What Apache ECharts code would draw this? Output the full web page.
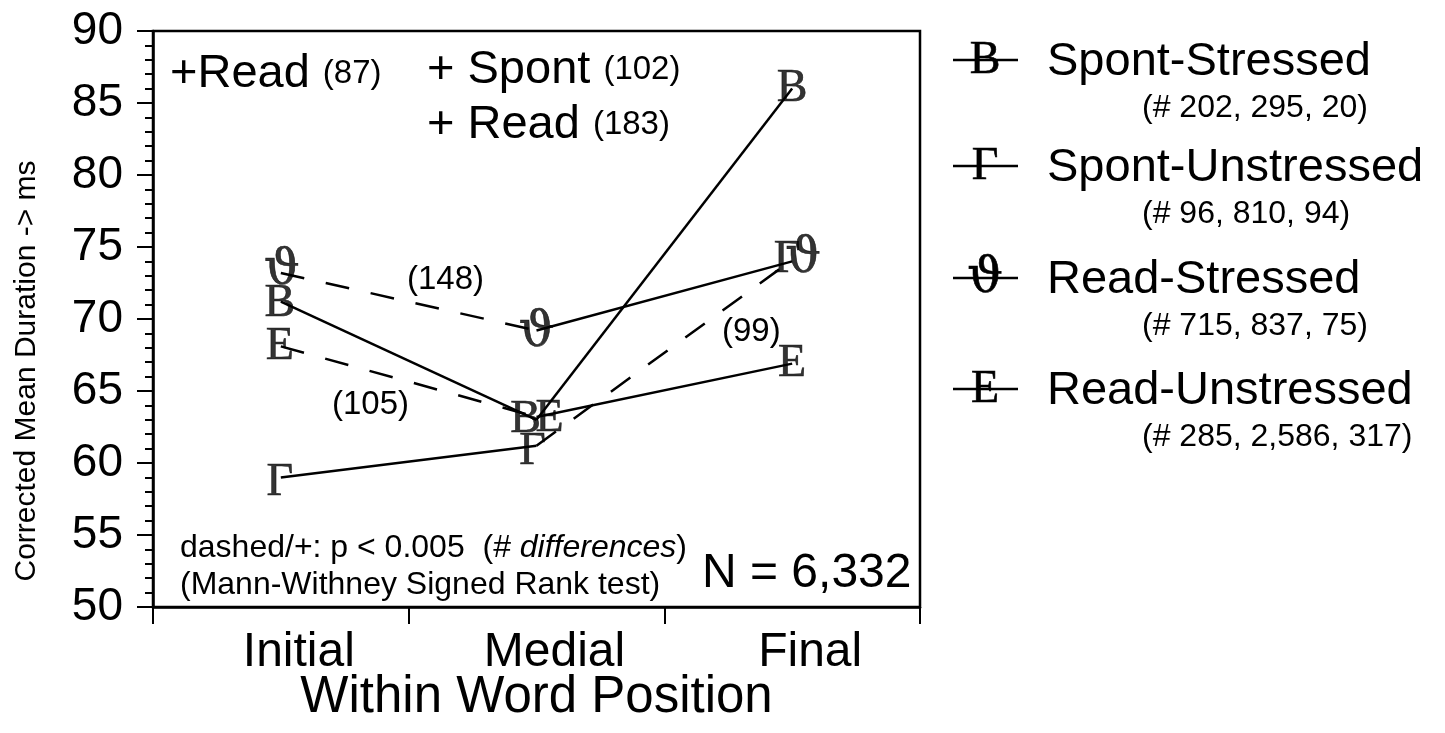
<!DOCTYPE html>
<html>
<head>
<meta charset="utf-8">
<script src="https://cdn.jsdelivr.net/npm/echarts@6/dist/echarts.min.js"></script>
<style>
html,body{margin:0;padding:0;background:#fff;overflow:hidden;}
#chart{width:1445px;height:733px;}
</style>
</head>
<body>
<div id="chart"></div>
<script>
// ---- data ----
const categories = ['Initial', 'Medial', 'Final'];
const seriesNames = ['Spont-Stressed', 'Spont-Unstressed', 'Read-Stressed', 'Read-Unstressed'];
const seriesLetters = ['B', 'Γ', 'ϑ', 'E'];
const spontStressed = [71.2, 63.0, 86.0];
const spontUnstressed = [59.0, 61.2, 74.1];
const readStressed = [73.2, 69.2, 74.0];
const readUnstressed = [68.1, 63.2, 66.9];
// dashed flag for segments Initial->Medial, Medial->Final
const segmentDashed = [[false, false], [false, true], [true, false], [true, false]];
const legendCounts = ['(# 202, 295, 20)', '(# 96, 810, 94)', '(# 715, 837, 75)', '(# 285, 2,586, 317)'];
const yTicks = { min: 50, max: 90, interval: 5 };

// ---- styling ----
const SANS = "'Liberation Sans', Arial, Helvetica, sans-serif";
const SERIF = "'Liberation Serif', 'DejaVu Serif', 'Times New Roman', serif";
const THETA = "'DejaVu Serif', 'Liberation Serif', serif";
const glyphFonts = [SERIF, SERIF, THETA, SERIF];
const glyphSizes = [46, 46, 50, 46];
const glyphOffsets = [
  [[-1, 2], [-11, 0], [0, 0]],
  [[-1, 6], [-4, 6], [-5, 0]],
  [[1, -2], [0, 2], [11, -2]],
  [[-1, 1], [13, 2], [0, 0]]
];
const allValues = [spontStressed, spontUnstressed, readStressed, readUnstressed];

const chart = echarts.init(document.getElementById('chart'), null, { renderer: 'canvas' });

const series = [];
allValues.forEach((vals, s) => {
  for (let seg = 0; seg < vals.length - 1; seg++) {
    const data = vals.map((v, i) => (i === seg || i === seg + 1) ? v : null);
    series.push({
      type: 'line',
      name: seriesNames[s] + '-seg' + seg,
      data: data,
      symbol: 'none',
      connectNulls: false,
      silent: true,
      z: 2,
      lineStyle: {
        color: '#000',
        width: 2.5,
        type: segmentDashed[s][seg] ? [24, 22] : 'solid'
      }
    });
  }
  series.push({
    type: 'scatter',
    name: seriesNames[s],
    data: vals.map((v, i) => ({
      value: v,
      label: { offset: glyphOffsets[s][i] }
    })),
    symbol: 'circle',
    symbolSize: 1,
    itemStyle: { color: 'rgba(0,0,0,0)' },
    silent: true,
    z: 3,
    label: {
      show: true,
      position: 'inside',
      formatter: () => seriesLetters[s],
      fontFamily: glyphFonts[s],
      fontSize: glyphSizes[s],
      color: '#000',
      textBorderColor: '#000',
      textBorderWidth: 0.6
    }
  });
});

// legend rows drawn as graphics
const legendRowsY = [60, 166, 278, 389];
const graphics = [];
seriesNames.forEach((name, i) => {
  const y = legendRowsY[i];
  graphics.push({
    type: 'line', silent: true,
    shape: { x1: 953, y1: y, x2: 1018, y2: y },
    style: { stroke: '#000', lineWidth: 2.5 }
  });
  graphics.push({
    type: 'text', silent: true,
    style: { text: seriesLetters[i], x: 985, y: y + 1, textAlign: 'center', textVerticalAlign: 'middle',
      font: glyphSizes[i] + 'px ' + glyphFonts[i], fill: '#000', stroke: '#000', lineWidth: 0.6 }
  });
  graphics.push({
    type: 'text', silent: true,
    style: { text: name, x: 1047, y: y + 2, textAlign: 'left', textVerticalAlign: 'middle',
      font: '47px ' + SANS, fill: '#000' }
  });
  graphics.push({
    type: 'text', silent: true,
    style: { text: legendCounts[i], x: 1142, y: y + 48, textAlign: 'left', textVerticalAlign: 'middle',
      font: '32px ' + SANS, fill: '#000' }
  });
});

// y-axis title as a rotated text
graphics.push({
  type: 'text', silent: true,
  x: 27, y: 371, rotation: Math.PI / 2,
  style: { text: 'Corrected Mean Duration -> ms', x: 0, y: 0, textAlign: 'center', textVerticalAlign: 'middle',
    font: '30px ' + SANS, fill: '#000' }
});

function richText(x, y, text, rich) {
  return {
    type: 'text', silent: true, z: 10,
    style: { text: text, x: x, y: y, textAlign: 'left', textVerticalAlign: 'middle', rich: rich, fill: '#000' }
  };
}
const rich = {
  b: { fontSize: 47, fontFamily: SANS, color: '#000' },
  s: { fontSize: 33, fontFamily: SANS, color: '#000' },
  m: { fontSize: 32, fontFamily: SANS, color: '#000' },
  i: { fontSize: 32, fontFamily: SANS, fontStyle: 'italic', color: '#000' },
  n: { fontSize: 48, fontFamily: SANS, color: '#000' }
};
graphics.push(richText(170, 74, '{b|+Read }{s|(87)}', rich));
graphics.push(richText(427, 70, '{b|+ Spont }{s|(102)}', rich));
graphics.push(richText(427, 125, '{b|+ Read }{s|(183)}', rich));
graphics.push(richText(407, 280, '{s|(148)}', rich));
graphics.push(richText(332, 405, '{s|(105)}', rich));
graphics.push(richText(722, 332, '{s|(99)}', rich));
graphics.push(richText(180, 548, '{m|dashed/+: p < 0.005  (# }{i|differences}{m|)}', rich));
graphics.push(richText(180, 585, '{m|(Mann-Withney Signed Rank test)}', rich));
graphics.push(richText(702, 574, '{n|N = 6,332}', rich));

const option = {
  animation: false,
  backgroundColor: '#fff',
  grid: {
    left: 153, right: 525, top: 31, bottom: 126,
    containLabel: false,
    outerBoundsMode: 'none',
    show: true, borderColor: '#000', borderWidth: 2.5, backgroundColor: 'transparent'
  },
  xAxis: {
    type: 'category',
    data: categories,
    boundaryGap: true,
    axisLine: { show: true, lineStyle: { color: '#000', width: 2.5 } },
    axisTick: { show: true, length: 17, lineStyle: { color: '#000', width: 2 } },
    axisLabel: { fontSize: 48, fontFamily: SANS, color: '#000', margin: 22, padding: [0, 0, 0, 36] },
    splitLine: { show: false },
    name: 'Within Word Position',
    nameLocation: 'middle',
    nameGap: 65,
    nameMoveOverlap: false,
    nameTextStyle: { fontSize: 51, fontFamily: SANS, color: '#000' }
  },
  yAxis: {
    type: 'value',
    min: yTicks.min, max: yTicks.max, interval: yTicks.interval,
    axisLine: { show: true, lineStyle: { color: '#000', width: 2.5 } },
    axisTick: { show: true, inside: false, length: 16, lineStyle: { color: '#000', width: 2 } },
    minorTick: { show: true, splitNumber: 5, length: 8, lineStyle: { color: '#000', width: 2 } },
    splitLine: { show: false },
    minorSplitLine: { show: false },
    axisLabel: { fontSize: 46, fontFamily: SANS, color: '#000', margin: 30 }
  },
  series: series,
  graphic: graphics
};
chart.setOption(option);
</script>
</body>
</html>
